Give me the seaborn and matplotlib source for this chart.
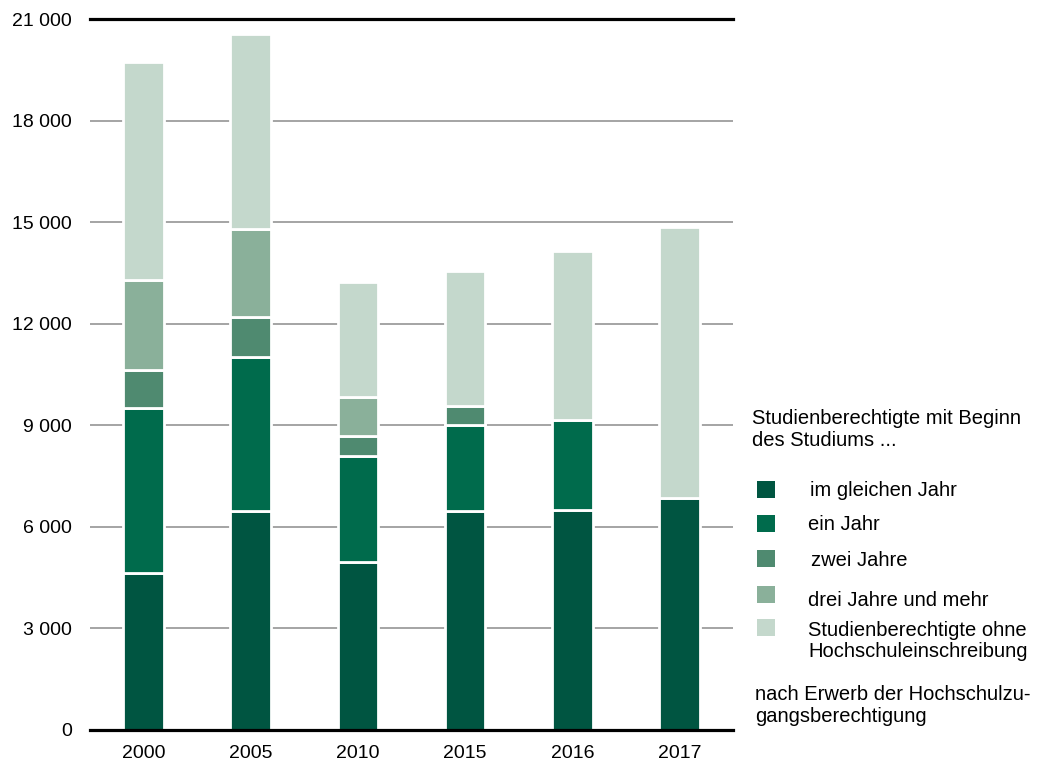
import numpy as np
import pandas as pd
import matplotlib
matplotlib.use("Agg")
import matplotlib.pyplot as plt
import seaborn as sns
from matplotlib.patches import Rectangle

# Data
years = ["2000", "2005", "2010", "2015", "2016", "2017"]
im_gleichen_jahr = [4650, 6470, 4975, 6455, 6500, 6840]
ein_jahr = [4860, 4560, 3105, 2560, 2660, 0]
zwei_jahre = [1130, 1165, 590, 560, 0, 0]
drei_jahre_mehr = [2640, 2600, 1180, 0, 0, 0]
ohne_einschreibung = [6455, 5750, 3370, 3980, 4995, 8005]

series_names = ["im gleichen Jahr", "ein Jahr", "zwei Jahre",
                "drei Jahre und mehr", "Studienberechtigte ohne\nHochschuleinschreibung"]
series_values = [im_gleichen_jahr, ein_jahr, zwei_jahre, drei_jahre_mehr, ohne_einschreibung]
colors = ["#005541", "#006b4c", "#4f8a70", "#8ab09a", "#c4d8cc"]

yticks = [0, 3000, 6000, 9000, 12000, 15000, 18000, 21000]
ytick_labels = ["0", "3 000", "6 000", "9 000", "12 000", "15 000", "18 000", "21 000"]

sns.set_style("white")
plt.rcParams['font.family'] = ['Liberation Sans', 'DejaVu Sans']
plt.rcParams['text.color'] = 'black'
plt.rcParams['xtick.color'] = 'black'
plt.rcParams['ytick.color'] = 'black'

fig = plt.figure(figsize=(10.37, 7.63), dpi=100)
ax = fig.add_axes([90 / 1037, 33 / 763, 643 / 1037, 711 / 763])

df = pd.DataFrame({"year": years})
bottom = np.zeros(len(years))
for name, vals, col in zip(series_names, series_values, colors):
    vals = np.array(vals, dtype=float)
    df["value"] = vals
    df["bottom"] = bottom
    sub = df[df["value"] > 0]
    sns.barplot(data=sub, x="year", y="value", order=years, color=col,
                bottom=sub["bottom"].values, width=0.38, edgecolor="white",
                linewidth=2.0, saturation=1, ax=ax, zorder=3)
    bottom = bottom + vals

ax.set_xlim(-0.5, 5.5)
ax.set_ylim(0, 21000)
ax.set_yticks(yticks)
ax.set_yticklabels(ytick_labels, fontsize=14)
ax.set_xticks(range(len(years)))
ax.set_xticklabels(years, fontsize=14)
ax.tick_params(axis='y', length=0, pad=13)
ax.tick_params(axis='x', length=0, pad=10.5)
ax.set_xlabel("")
ax.set_ylabel("")

ax.grid(axis='y', color="#8c8c8c", linewidth=1.1)
ax.grid(axis='x', visible=False)
ax.set_axisbelow(True)

for side in ["left", "right"]:
    ax.spines[side].set_visible(False)
for side in ["top", "bottom"]:
    ax.spines[side].set_color("black")
    ax.spines[side].set_linewidth(2.3)
    ax.spines[side].set_zorder(4)

# legend drawn by hand to the right of the plot
W, H = 1037, 763
def fx(x):
    return x / W
def fy(y):
    return 1 - y / H

fs = 14.5
fig.text(fx(752), fy(419), "Studienberechtigte mit Beginn", fontsize=fs, va="center")
fig.text(fx(752), fy(441), "des Studiums ...", fontsize=fs, va="center")

square_y = [489, 523, 558, 594, 627.5]
text_pos = [(810, 490), (808, 525), (811, 560), (808, 600), (808, 641)]
for sy, (tx, ty), name, col in zip(square_y, text_pos, series_names, colors):
    fig.patches.append(Rectangle((fx(757), fy(sy + 8.5)), 18 / W, 17 / H,
                                 transform=fig.transFigure, facecolor=col,
                                 edgecolor="none"))
    fig.text(fx(tx), fy(ty), name, fontsize=fs, va="center", linespacing=1.13)

fig.text(fx(755), fy(695), "nach Erwerb der Hochschulzu-", fontsize=fs, va="center")
fig.text(fx(755), fy(717), "gangsberechtigung", fontsize=fs, va="center")

fig.savefig("out.png", dpi=100)
